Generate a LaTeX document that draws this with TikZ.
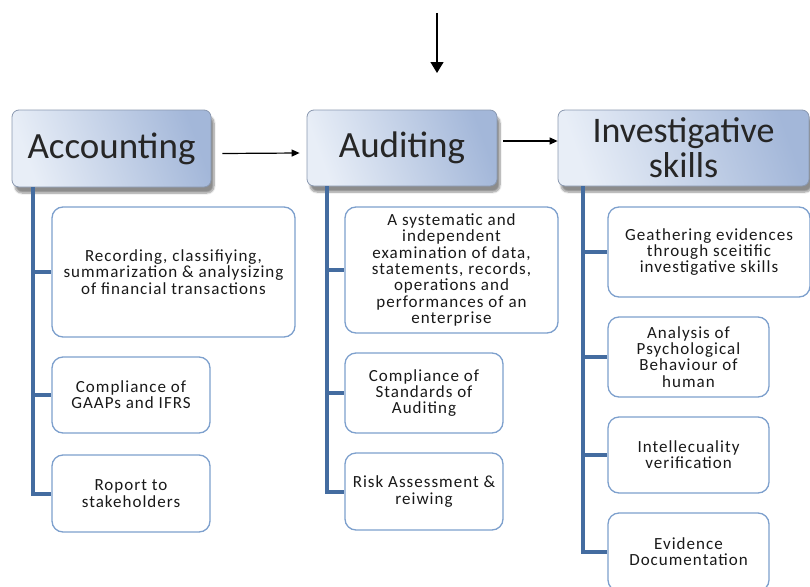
\documentclass[tikz,border=0pt]{standalone}
\usepackage{fontspec}
\setmainfont{Carlito}
\newfontfamily\boxfont[LetterSpace=6]{Carlito}
\usetikzlibrary{arrows.meta,shadows.blur}

\definecolor{headtop}{RGB}{232,238,247}
\definecolor{headbot}{RGB}{163,183,217}
\definecolor{headline}{RGB}{138,152,176}
\definecolor{itemline}{RGB}{125,160,205}
\definecolor{trunkblue}{RGB}{68,108,160}

\tikzset{
  head/.style={rectangle, rounded corners=7pt, draw=headline, line width=0.8pt,
    left color=headtop, right color=headbot, shading angle=110,
    align=center, inner sep=0pt, text=black!85,
    font=\fontsize{37}{38}\selectfont,
    blur shadow={shadow xshift=3pt, shadow yshift=-6pt,
      shadow blur steps=8, shadow opacity=45}},
  item/.style={rectangle, rounded corners=11pt, draw=itemline, line width=1.3pt,
    fill=white, align=center, inner sep=0pt, text=black!90,
    font=\boxfont\fontsize{17}{16.3}\selectfont},
  trunk/.style={trunkblue, line width=4pt},
  flow/.style={-{Triangle[length=8pt,width=7pt]}, line width=1.2pt}
}

\begin{document}
\begin{tikzpicture}[x=1pt,y=-1pt]
\useasboundingbox (0,0) rectangle (810,586);

% incoming arrow from above
\coordinate (src) at (437,13);
\coordinate (dst) at (437,73);
\draw[-{Triangle[length=11pt,width=13pt]}, line width=1.3pt] (src) -- (dst);

% the three headings
\node[head, minimum width=199pt, minimum height=77pt] (acc) at (111.5,148.5) {Accounting};
\node[head, minimum width=190pt, minimum height=76pt] (aud) at (402,148) {Auditing};
\node[head, minimum width=251pt, minimum height=76pt,
  font=\fontsize{36}{34}\selectfont] (inv) at (683.5,148) {Investigative\\[1pt]skills};

\draw[flow] ([xshift=11pt,yshift=-5pt]acc.east) -- ([xshift=-7pt,yshift=-5pt]aud.west);
\draw[flow] ([xshift=6pt,yshift=7pt]aud.east) -- ([yshift=7pt]inv.west);

% accounting column
\node[item, minimum width=243pt, minimum height=130pt] (a1) at (173.5,272)
  {Recording, classifiying,\\summarization \& analysizing\\of financial transactions};
\node[item, minimum width=158pt, minimum height=76pt] (a2) at (131,395)
  {Compliance of\\GAAPs and IFRS};
\node[item, minimum width=158pt, minimum height=77pt] (a3) at (131,493.5)
  {Roport to\\stakeholders};

% auditing column
\node[item, minimum width=213pt, minimum height=126pt] (u1) at (451.5,270)
  {A systematic and\\independent\\examination of data,\\statements, records,\\operations and\\performances of an\\enterprise};
\node[item, minimum width=158pt, minimum height=80pt] (u2) at (424,393)
  {Compliance of\\Standards of\\Auditing};
\node[item, minimum width=158pt, minimum height=77pt] (u3) at (424,491.5)
  {Risk Assessment \&\\reiwing};

% investigative column
\node[item, minimum width=202pt, minimum height=90pt] (i1) at (709,252)
  {Geathering evidences\\through sceitific\\investigative skills};
\node[item, minimum width=161pt, minimum height=80pt] (i2) at (688.5,357)
  {Analysis of\\Psychological\\Behaviour of\\human};
\node[item, minimum width=161pt, minimum height=76pt] (i3) at (688.5,455)
  {Intellecuality\\verification};
\node[item, minimum width=161pt, minimum height=78pt] (i4) at (688.5,552)
  {Evidence\\Documentation};

% trunks and branches
\foreach \b in {a1,a2,a3}
  \draw[trunk] ([xshift=21pt]acc.south west) |- (\b.west);
\foreach \b in {u1,u2,u3}
  \draw[trunk] ([xshift=20pt]aud.south west) |- (\b.west);
\foreach \b in {i1,i2,i3,i4}
  \draw[trunk] ([xshift=25pt]inv.south west) |- (\b.west);

\end{tikzpicture}
\end{document}
